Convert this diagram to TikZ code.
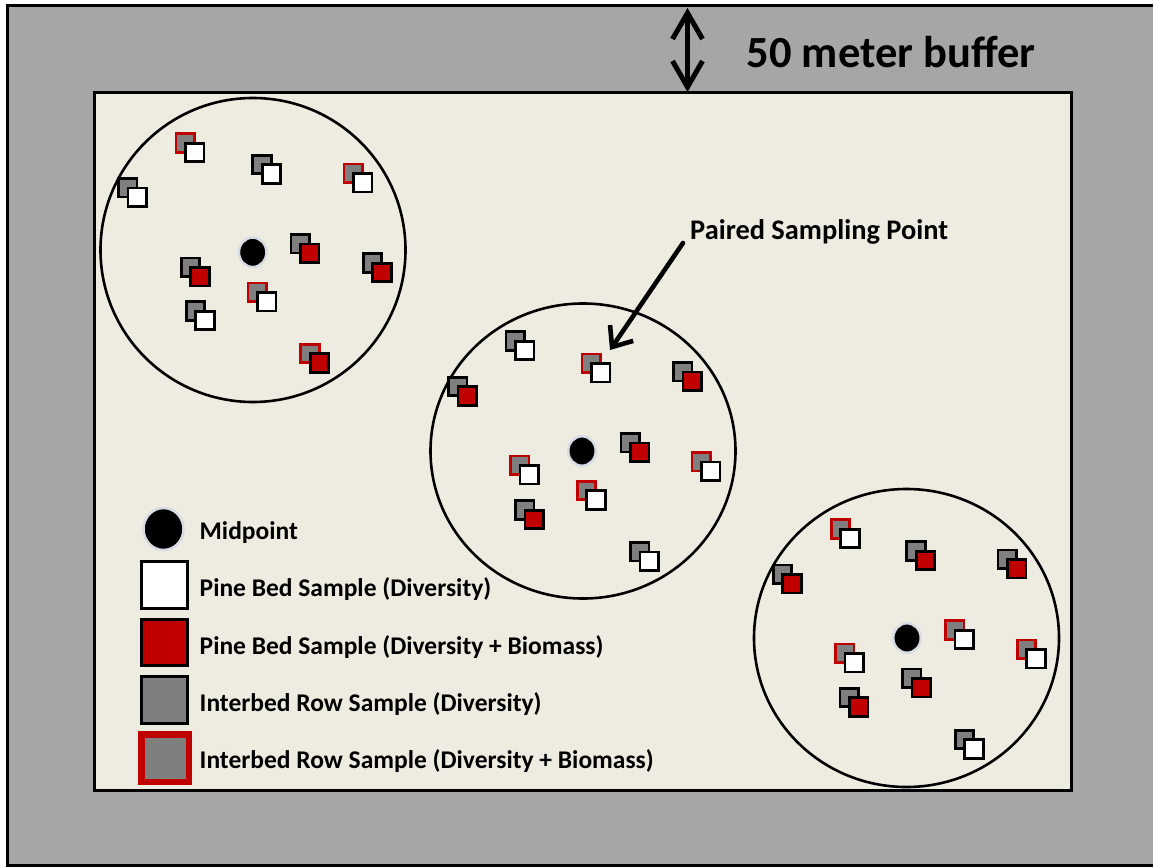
\documentclass[tikz,border=0pt]{standalone}
\usepackage{fontspec}
\setmainfont{Carlito}
\usetikzlibrary{arrows.meta,shapes.geometric}
\definecolor{buffergray}{HTML}{A6A6A6}
\definecolor{plotbg}{HTML}{EEECE1}
\definecolor{sred}{HTML}{C00000}
\definecolor{sgray}{HTML}{7F7F7F}
\definecolor{glow}{HTML}{D8DBE4}
\begin{document}
\begin{tikzpicture}[x=1pt,y=-1pt,
  sq/.style={rectangle, minimum size=18.5pt, inner sep=0pt, line width=2.6pt, draw=black},
  wsq/.style={sq, fill=white},
  rsq/.style={sq, fill=sred},
  gsq/.style={sq, fill=sgray},
  rgsq/.style={sq, fill=sgray, draw=sred, line width=2.6pt},
  lsq/.style={rectangle, minimum size=46.5pt, inner sep=0pt, line width=3pt, draw=black},
  ring/.style={ellipse, draw=black, line width=2.6pt, inner sep=0pt},
  middot/.style={ellipse, fill=black, draw=glow, line width=2.5pt, minimum width=27.5pt, minimum height=29.5pt, inner sep=0pt},
  legtext/.style={anchor=base west, inner sep=0pt, font=\fontsize{25.5}{30}\selectfont\bfseries},
  barb/.style={line width=4.6pt, line cap=round, line join=round}]
\useasboundingbox (0,0) rectangle (1153,867);
\clip (0,0) rectangle (1153,867);
% buffer zone
\draw[fill=buffergray, line width=3pt] (7,5.5) rectangle (1175,865.5);
% plot
\draw[fill=plotbg, line width=3pt] (94,92) rectangle (1071,790.5);
% sampling circles
\node[ring, minimum width=305pt, minimum height=304pt] (c1) at (253,250) {};
\node[ring, minimum width=305pt, minimum height=295pt] (c2) at (583,451) {};
\node[ring, minimum width=305pt, minimum height=298pt] (c3) at (906.5,638) {};
% midpoints
\node[middot] (m1) at (252.7,252.3) {};
\node[middot] (m2) at (582,451) {};
\node[middot] (m3) at (907,638) {};
% paired sampling points
\foreach \x/\y/\b/\f [count=\i] in {
  194.7/152.5/rgsq/wsq, 271.5/174/gsq/wsq, 362.7/182.8/rgsq/wsq, 137.3/197.3/gsq/wsq,
  309.8/253.3/gsq/rsq, 382/272.5/gsq/rsq, 200/276.7/gsq/rsq, 266.7/301.7/rgsq/wsq,
  205/320.5/gsq/wsq, 319.5/363/rgsq/rsq,
  524.8/350.5/gsq/wsq, 600.8/372.8/rgsq/wsq, 692.2/381.3/gsq/rsq, 467.3/396/gsq/rsq,
  639.8/452.2/gsq/rsq, 710.8/471.2/rgsq/wsq, 529.3/474.8/rgsq/wsq, 596/500/rgsq/wsq,
  534.3/519.5/gsq/rsq, 649.3/561.2/gsq/wsq,
  850/538.5/rgsq/wsq, 925.5/560.5/gsq/rsq, 1016.7/568.8/gsq/rsq, 792/583.8/gsq/rsq,
  964.3/639.5/rgsq/wsq, 1036/658.7/rgsq/wsq, 854.3/662.7/rgsq/wsq, 921.2/687.8/gsq/rsq,
  858.8/707/gsq/rsq, 974/749/gsq/wsq}
{
  \node[\b] (b\i) at (\x-9.5,\y-9.5) {};
  \node[\f] (f\i) at (\x,\y) {};
}
% buffer arrow and label
\coordinate (btop) at (687.5,8);
\coordinate (bbot) at (687.5,92);
\draw[barb, line width=5pt, {Straight Barb[length=26pt,width=30pt]}-{Straight Barb[length=26pt,width=30pt]}] (btop) -- (bbot);
\node[anchor=base west, inner sep=0pt, font=\fontsize{44.5}{50}\selectfont\bfseries] (buf) at (746.5,67) {50 meter buffer};
% paired point label and arrow
\node[anchor=base west, inner sep=0pt, font=\fontsize{28.4}{32}\selectfont\bfseries] (lblp) at (690,239.5) {Paired Sampling Point};
\coordinate (atail) at (683,243);
\coordinate (atip) at (610,350);
\draw[barb, -{Straight Barb[length=17pt,width=28pt]}] (atail) -- (atip);
% legend
\node[middot, minimum width=40pt, minimum height=42pt] (lm) at (163.5,529) {};
\node[lsq, fill=white] (lw) at (164.5,585) {};
\node[lsq, fill=sred] (lr) at (164.5,642.5) {};
\node[lsq, fill=sgray] (lg) at (164.5,700) {};
\node[lsq, fill=sgray, draw=sred, line width=6.5pt, minimum size=47.5pt] (lrg) at (165,758) {};
\node[legtext] (t1) at (199.5,539) {Midpoint};
\node[legtext] (t2) at (199.5,596.7) {Pine Bed Sample (Diversity)};
\node[legtext] (t3) at (199.5,654) {Pine Bed Sample (Diversity + Biomass)};
\node[legtext] (t4) at (199.5,711.5) {Interbed Row Sample (Diversity)};
\node[legtext] (t5) at (199.5,768.5) {Interbed Row Sample (Diversity + Biomass)};
\end{tikzpicture}
\end{document}
